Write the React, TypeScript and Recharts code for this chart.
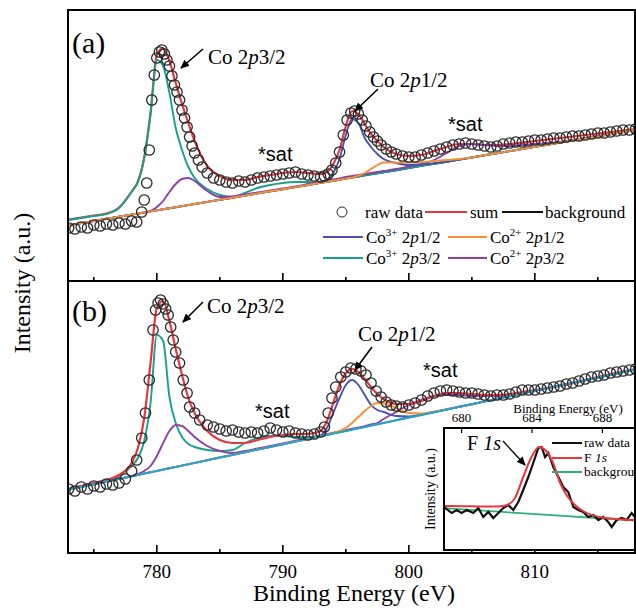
import React from 'react';
import { ComposedChart, Line, XAxis, YAxis } from 'recharts';

const SERIF = '"Liberation Serif", "Times New Roman", serif';
const SANS = '"Liberation Sans", Arial, sans-serif';
const COL = {
  red: '#e8373c', blue: '#4b50b4', orange: '#f39237', teal: '#17a08b',
  purple: '#8f3fa8', black: '#111111', cyan: '#27a3cc', green: '#33b07a', circle: '#2a2a2a',
};

// ---------- main panels: shared energy grid (eV) ----------
const E = [773,774,775,776,777,778,778.5,779,779.5,780,780.5,781,781.5,782,782.5,783,784,785,786,787,788,789,790,791,792,793,793.5,794,794.5,795,795.5,796,796.5,797,797.5,798,799,800,801,802,803,804,805,806,807,808,810,812,814,816,818];
const MAIN_TICKS = [775,780,785,790,795,800,805,810,815];

// panel (a)
const bgA = [55.8,57.9,60.0,62.2,64.3,66.4, 67.4,68.5,69.6,70.6,71.7,72.7,73.8,74.9,75.9,77.0, 79.1,81.2,83.3,85.4,87.6,89.7,91.8,93.9,96.0,98.1, 99.2,100.3,101.3,102.4,103.4,104.5,105.6,106.6,107.7,108.7, 110.8,113.0,115.1,117.2,119.3,121.4,123.5,125.7,127.8,129.9, 134.1,138.4,142.6,146.8,151.1];
const sumA = [61.5,63.5,65.5,67.5,73.5,89.5, 99.5,123.5,168,226,233,220,198,177,158,140, 115,105,101,101,104,106,108,109,108,107, 109,117,131,155,170,167,157,147,140,134, 127,125,126,130,134,137,137,136,136,137, 140,143,146,149,152];
const co3p32A = [61,63,65,67,73,89, 99,123,167,221,215,188,153,131,114,103, 92,86,84,88,93,96,98,99,99,98.3, 99.2,100.3,101.3,102.4,103.4,104.5,105.6,106.6,107.7,108.7, 110.8,113.0,115.1,117.2,119.3,121.4,123.5,125.7,127.8,129.9, 134.1,138.4,142.6,146.8,151.1];
const co3p12A = [55.8,57.9,60.0,62.2,64.3,66.4, 67.4,68.5,69.6,70.6,71.7,72.7,73.8,74.9,75.9,77.0, 79.1,81.2,83.3,85.4,87.6,89.7,91.8,93.9,96.0,98.5, 101,108,122,146,162,158,143,134,127,122, 118,116,116.5,117.8,119.3,121.4,123.5,125.7,127.8,129.9, 134.1,138.4,142.6,146.8,151.1];
const co2p12A = [55.8,57.9,60.0,62.2,64.3,66.4, 67.4,68.5,69.6,70.6,71.7,72.7,73.8,74.9,75.9,77.0, 79.1,81.2,83.3,85.4,87.6,89.7,91.8,93.9,96.0,98.1, 99.2,100.3,101.3,102.4,103.4,105.5,108,112,116,118.5, 118.5,118.5,119,120,121,122,123.5,125.7,127.8,129.9, 134.1,138.4,142.6,146.8,151.1];
const co2p32A = [55.8,57.9,60.0,62.2,64.3,66.4, 67.4,68.5,70,74,80,89,97,102,103,100, 90,84,84.5,86.5,88.5,90.5,92.5,94.5,97,99.5, 100.5,101.5,102.5,104,105,106,107,108,109,110, 112,114.5,117,121,128,135,137,136,135,135, 137,139,143,147,151.1];
const rawAE = [773,773.5,774,774.5,775,775.5,776,776.5,777,777.5,778,778.4,778.8,779.0,779.2,779.4,779.6,779.8,780.0,780.2,780.4,780.6,780.8,781.0,781.2,781.4,781.6,781.8,782.0,782.2,782.4,782.6,782.8,783.0,783.3,783.6,784.0,784.5,785,785.5,786,786.5,787,787.5,788,788.5,789,789.5,790,790.5,791,791.5,792,792.5,793,793.3,793.6,793.9,794.2,794.5,794.8,795.1,795.4,795.7,796.0,796.3,796.6,796.9,797.2,797.5,797.8,798.2,798.6,799,799.5,800,800.5,801,801.5,802,802.5,803,803.5,804,804.5,805,805.5,806,806.5,807,807.5,808,808.5,809,809.5,810,810.5,811,811.5,812,812.5,813,813.5,814,814.5,815,815.5,816,816.5,817,817.5,818];
const rawAI = [53,52,54,53,56,55,57,56,58,57,60,59,69,81,98,131,181,206,223,229,231,227,221,215,205,196,189,181,171,163,154,144,135,128,121,114,108,103,101,99,98,100,99,101,103,104,105,106,107,108,109,107,106,105,104,105,107,111,118,129,146,161,168,170,167,161,155,149,144,140,136,132,129,127,125,124,124,126,128,130,132,134,136,137,138,137,136,135,134,135,137,138,139,139,140,141,141,142,143,143,144,145,145,146,147,148,148,149,150,151,151,152];

// panel (b)
const bgB = [63.4,66.1,68.7,71.4,74.1,76.8, 78.1,79.4,80.8,82.1,83.4,84.8,86.1,87.4,88.8,90.1, 92.8,95.5,98.1,100.8,103.5,106.1,108.8,111.5,114.1,116.8, 118.1,119.5,120.8,122.1,123.5,124.8,126.1,127.5,128.8,130.1, 132.8,135.5,138.1,140.8,143.5,146.2,148.8,151.5,154.2,156.8, 162.2,167.5,172.8,178.2,183.5];
const sumB = [64,67,70,73,78,90, 105,135,190,245,252,232,204,178,155,140, 122,113,110,110,113,116,118,119,119,122, 132,150,168,180,184,181,174,166,159,154, 149,149,152,157,160,160,159,158,158,159, 163,167,173,179,184];
const co3p32B = [64,67,70,73,77,87, 95,112,150,218,212,156,130,116,109,106, 103,102,103,110,115,117,117,116,116,117, 118.1,119.5,120.8,122.1,123.5,124.8,126.1,127.5,128.8,130.1, 132.8,135.5,138.1,140.8,143.5,146.2,148.8,151.5,154.2,156.8, 162.2,167.5,172.8,178.2,183.5];
const co3p12B = [63.4,66.1,68.7,71.4,74.1,76.8, 78.1,79.4,80.8,82.1,83.4,84.8,86.1,87.4,88.8,90.1, 92.8,95.5,98.1,100.8,103.5,106.1,108.8,111.5,114.1,117.5, 125,140,155,168,173,168,158,148,143,141, 137,136.5,138.5,141,143.5,146.2,148.8,151.5,154.2,156.8, 162.2,167.5,172.8,178.2,183.5];
const co2p12B = [63.4,66.1,68.7,71.4,74.1,76.8, 78.1,79.4,80.8,82.1,83.4,84.8,86.1,87.4,88.8,90.1, 92.8,95.5,98.1,100.8,103.5,106.1,108.8,111.5,114.1,116.8, 118.1,120,122,125,130,136,142,147,150,149.5, 145,140,139.5,141.5,143.8,146.2,148.8,151.5,154.2,156.8, 162.2,167.5,172.8,178.2,183.5];
const co2p32B = [63.4,66.1,68.7,71.4,74.1,76.8, 79,82,87,97,110,122,128,127,122,116, 107,102,100,102,104.5,107,109.5,112.2,114.8,117.5, 118.8,120.2,121.5,122.8,124.2,125.5,126.8,128.5,130,134, 141,148,153,157,158,158,157,157,157,158, 162.5,167.5,172.8,178.2,183.5];
const rawBE = [773,773.5,774,774.5,775,775.5,776,776.5,777,777.5,778,778.4,778.8,779.1,779.4,779.7,779.9,780.1,780.3,780.5,780.7,780.9,781.1,781.3,781.5,781.8,782.1,782.4,782.6,783,783.4,784,784.5,785,785.5,786,786.5,787,787.5,788,788.5,789,789.5,790,790.5,791,791.5,792,792.5,793,793.3,793.6,793.9,794.2,794.6,795,795.4,795.8,796.2,796.6,797,797.4,797.8,798.2,798.6,799,799.5,800,800.5,801,801.5,802,802.5,803,803.5,804,804.5,805,805.5,806,806.5,807,807.5,808,808.5,809,809.5,810,810.5,811,811.5,812,812.5,813,813.5,814,814.5,815,815.5,816,816.5,817,817.5,818];
const rawBI = [64,62,66,64,67,66,69,68,70,74,82,93,115,140,173,223,243,250,253,249,244,238,226,213,201,190,173,160,146,140,133,128,126,124,122,123,121,120,121,120,122,125,123,121,122,120,119,118,119,121,126,140,155,166,176,181,185,184,182,178,170,162,156,151,148,147,146,148,150,153,157,160,162,163,162,161,160,160,159,158,157,158,158,159,161,163,163,163,164,165,166,167,169,170,172,174,176,177,178,180,181,182,183,184];

// ---------- inset: F 1s ----------
const INSET_TICKS = [680, 684, 688];
const fRawE = [679.0,679.44,679.72,680.0,680.29,680.67,680.95,681.23,681.52,681.8,682.09,682.37,682.65,682.94,683.22,683.5,683.79,684.07,684.36,684.55,684.74,684.93,685.21,685.5,685.78,686.06,686.35,686.63,686.91,687.2,687.48,687.77,688.05,688.33,688.53,688.81,689.1,689.38,689.66,689.9];
const fRawI = [42,36,39,36,39,36,41,32,37,31,36,41,44,39,47,59,72,86,101,102,92,96,82,72,62,57,42,39,37,32,34,29,32,27,22,29,31,29,36,31];
const fFitE = [679,680,681,682,682.5,683,683.5,684,684.4,684.8,685.2,685.6,686,686.5,687,688,689,690];
const fFitI = [43,42.8,42.6,42.4,43.5,50,72,93,102,98,86,66,53,43,37,31.5,29.8,28.8];
const fBgE = [679, 690];
const fBgI = [40.8, 28.4];

const zip = (xs: number[], ys: number[]) => xs.map((e, i) => ({ e, v: ys[i] }));

const MainTick = (props: any) => {
  const { x, y, payload, labels } = props;
  const v = payload.value;
  const major = v % 10 === 0;
  return (
    <g>
      <line x1={x} x2={x} y1={y} y2={y - (major ? 8 : 4)} stroke="#000" strokeWidth={1.6} />
      {labels && major ? (
        <text x={x} y={y + 25} textAnchor="middle" fontSize={19} fontFamily={SERIF} fill="#000">{v}</text>
      ) : null}
    </g>
  );
};

const InsetTick = (props: any) => {
  const { x, y, payload } = props;
  return (
    <g>
      <line x1={x} x2={x} y1={y} y2={y + 5} stroke="#000" strokeWidth={1.2} />
      <text x={x} y={y - 6} textAnchor="middle" fontSize={13} fontFamily={SERIF} fill="#000">{payload.value}</text>
    </g>
  );
};

const AX = { stroke: '#000', strokeWidth: 2 };
const XDOM: [number, number] = [772.95, 817.95];

const axes = (yMax: number, labels: boolean, xh: number) => [
  <XAxis key="xb" dataKey="e" type="number" domain={XDOM} allowDataOverflow ticks={MAIN_TICKS} interval={0}
    tickLine={false} tickSize={0} tickMargin={0} height={xh} axisLine={AX}
    tick={(p: any) => <MainTick {...p} labels={labels} />} />,
  <YAxis key="yl" type="number" domain={[0, yMax]} allowDataOverflow hide />,
];

const fitLine = (key: string, data: any[], color: string, w = 1.9, type: any = 'monotone') => (
  <Line key={key} data={data} dataKey="v" type={type} stroke={color} strokeWidth={w} dot={false} activeDot={false} isAnimationActive={false} />
);
const rawLine = (key: string, data: any[]) => (
  <Line key={key} data={data} dataKey="v" stroke="none" dot={{ r: 5.2, fill: 'none', stroke: COL.circle, strokeWidth: 1.3 }} activeDot={false} isAnimationActive={false} />
);

const Sup = ({ t }: { t: string }) => (
  <>
    <tspan fontSize={11} dy={-7}>{t}</tspan>
    <tspan dy={7}> 2</tspan>
  </>
);

export default function App() {
  const rawA = zip(rawAE, rawAI);
  const rawB = zip(rawBE, rawBI);
  const tS = { fontFamily: SERIF, fill: '#000' } as any;

  return (
    <div style={{ position: 'absolute', left: 0, top: 0, width: 636, height: 614, overflow: 'hidden', background: '#fff' }}>
      {/* panel (a) */}
      <div style={{ position: 'absolute', left: 0, top: 0 }}>
        <ComposedChart width={636} height={300} margin={{ top: 10, right: 1, left: 68, bottom: 0 }}>
          {axes(271, false, 19)}
          {rawLine('rawA', rawA)}
          {fitLine('bgA', zip(E, bgA), COL.black, 1.9, 'linear')}
          {fitLine('sumA', zip(E, sumA), COL.red, 2.2)}
          {fitLine('c3p32A', zip(E, co3p32A), COL.teal)}
          {fitLine('c2p32A', zip(E, co2p32A), COL.purple)}
          {fitLine('c3p12A', zip(E, co3p12A), COL.blue)}
          {fitLine('c2p12A', zip(E, co2p12A), COL.orange)}
        </ComposedChart>
      </div>
      {/* panel (b) */}
      <div style={{ position: 'absolute', left: 0, top: 0 }}>
        <ComposedChart width={636} height={614} margin={{ top: 281, right: 1, left: 68, bottom: 0 }}>
          {axes(272, true, 61)}
          {rawLine('rawB', rawB)}
          {fitLine('c3p32B', zip(E, co3p32B), COL.teal)}
          {fitLine('c2p32B', zip(E, co2p32B), COL.purple)}
          {fitLine('c3p12B', zip(E, co3p12B), COL.blue)}
          {fitLine('c2p12B', zip(E, co2p12B), COL.orange)}
          {fitLine('sumB', zip(E, sumB), COL.red, 2.2)}
          {fitLine('bgB', zip(E, bgB), COL.cyan, 2, 'linear')}
        </ComposedChart>
      </div>
      {/* inset background */}
      <div style={{ position: 'absolute', left: 444, top: 428, width: 192, height: 122, background: '#fff' }} />
      {/* inset */}
      <div style={{ position: 'absolute', left: 400, top: 380 }}>
        <ComposedChart width={240} height={175} margin={{ top: 47, right: 2.4, left: 44, bottom: 5 }}>
          <XAxis dataKey="e" orientation="top" type="number" domain={[679, 690]} allowDataOverflow ticks={INSET_TICKS} interval={0}
            tickLine={false} tickSize={0} tickMargin={0} height={1} axisLine={false} tick={(p: any) => <InsetTick {...p} />} />
          <YAxis type="number" domain={[-1, 121]} allowDataOverflow hide />
          {fitLine('fbg', zip(fBgE, fBgI), COL.green, 1.8, 'linear')}
          {fitLine('fraw', zip(fRawE, fRawI), COL.black, 2.2, 'linear')}
          {fitLine('ffit', zip(fFitE, fFitI), COL.red, 2)}
        </ComposedChart>
      </div>
      {/* frames, texts, annotations, legends */}
      <svg width={636} height={614} style={{ position: 'absolute', left: 0, top: 0, pointerEvents: 'none' }}>
        <defs>
          <marker id="ah" markerWidth="9" markerHeight="8" refX="8" refY="4" orient="auto" markerUnits="userSpaceOnUse">
            <path d="M0,0 L9,4 L0,8 z" fill="#000" />
          </marker>
        </defs>
        <rect x={68} y={10} width={567} height={271} fill="none" stroke="#000" strokeWidth={2} />
        <rect x={68} y={281} width={567} height={272} fill="none" stroke="#000" strokeWidth={2} />
        <rect x={444} y={428} width={200} height={122} fill="none" stroke="#000" strokeWidth={2} />

        <text {...tS} fontSize={24} textAnchor="middle" transform="translate(30,283) rotate(-90)">Intensity (a.u.)</text>
        <text {...tS} fontSize={24} x={354} y={601} textAnchor="middle">Binding Energy (eV)</text>

        {/* panel a annotations */}
        <text {...tS} fontSize={30} x={72} y={53}>(a)</text>
        <text {...tS} fontSize={21} x={208} y={64}>Co 2<tspan fontStyle="italic">p</tspan>3/2</text>
        <line x1={203} y1={49} x2={181} y2={68} stroke="#000" strokeWidth={1.6} markerEnd="url(#ah)" />
        <text {...tS} fontSize={21} x={370} y={87}>Co 2<tspan fontStyle="italic">p</tspan>1/2</text>
        <line x1={378} y1={89} x2={355} y2={111} stroke="#000" strokeWidth={1.6} markerEnd="url(#ah)" />
        <text fontFamily={SANS} fill="#000" fontSize={20} x={258} y={161}>*sat</text>
        <text fontFamily={SANS} fill="#000" fontSize={20} x={448} y={131}>*sat</text>

        {/* legend (a) */}
        <circle cx={342} cy={212} r={5} fill="none" stroke={COL.circle} strokeWidth={1} />
        <text {...tS} fontSize={17} x={365} y={218}>raw data</text>
        <line x1={425} x2={467} y1={212} y2={212} stroke={COL.red} strokeWidth={2} />
        <text {...tS} fontSize={17} x={470} y={218}>sum</text>
        <line x1={502} x2={543} y1={212} y2={212} stroke={COL.black} strokeWidth={2} />
        <text {...tS} fontSize={17} x={545} y={218}>background</text>
        <line x1={323} x2={363} y1={237} y2={237} stroke={COL.blue} strokeWidth={2} />
        <text {...tS} fontSize={17} x={366} y={243}>Co<Sup t="3+" /><tspan fontStyle="italic">p</tspan>1/2</text>
        <line x1={448} x2={487} y1={237} y2={237} stroke={COL.orange} strokeWidth={2} />
        <text {...tS} fontSize={17} x={490} y={243}>Co<Sup t="2+" /><tspan fontStyle="italic">p</tspan>1/2</text>
        <line x1={323} x2={363} y1={258} y2={258} stroke={COL.teal} strokeWidth={2} />
        <text {...tS} fontSize={17} x={366} y={264}>Co<Sup t="3+" /><tspan fontStyle="italic">p</tspan>3/2</text>
        <line x1={448} x2={487} y1={258} y2={258} stroke={COL.purple} strokeWidth={2} />
        <text {...tS} fontSize={17} x={490} y={264}>Co<Sup t="2+" /><tspan fontStyle="italic">p</tspan>3/2</text>

        {/* panel b annotations */}
        <text {...tS} fontSize={30} x={72} y={321}>(b)</text>
        <text {...tS} fontSize={21} x={207} y={313}>Co 2<tspan fontStyle="italic">p</tspan>3/2</text>
        <line x1={203} y1={302} x2={183} y2={322} stroke="#000" strokeWidth={1.6} markerEnd="url(#ah)" />
        <text {...tS} fontSize={21} x={358} y={341}>Co 2<tspan fontStyle="italic">p</tspan>1/2</text>
        <line x1={372} y1={347} x2={355} y2={370} stroke="#000" strokeWidth={1.6} markerEnd="url(#ah)" />
        <text fontFamily={SANS} fill="#000" fontSize={20} x={255} y={418}>*sat</text>
        <text fontFamily={SANS} fill="#000" fontSize={20} x={423} y={377}>*sat</text>

        {/* inset texts */}
        <text {...tS} fontSize={13} x={568} y={413} textAnchor="middle">Binding Energy (eV)</text>
        <text {...tS} fontSize={14} textAnchor="middle" transform="translate(435,489) rotate(-90)">Intensity (a.u.)</text>
        <text {...tS} fontSize={20} x={467} y={450}>F <tspan fontStyle="italic">1s</tspan></text>
        <line x1={503} y1={441} x2={525} y2={465} stroke="#000" strokeWidth={1.3} markerEnd="url(#ah)" />
        <line x1={552} x2={582} y1={443} y2={443} stroke={COL.black} strokeWidth={2} />
        <text {...tS} fontSize={13.5} x={584} y={447}>raw data</text>
        <line x1={552} x2={582} y1={458} y2={458} stroke={COL.red} strokeWidth={2} />
        <text {...tS} fontSize={13.5} x={584} y={462}>F <tspan fontStyle="italic">1s</tspan></text>
        <line x1={552} x2={582} y1={472} y2={472} stroke={COL.green} strokeWidth={2} />
        <text {...tS} fontSize={13.5} x={584} y={476}>background</text>
      </svg>
    </div>
  );
}
